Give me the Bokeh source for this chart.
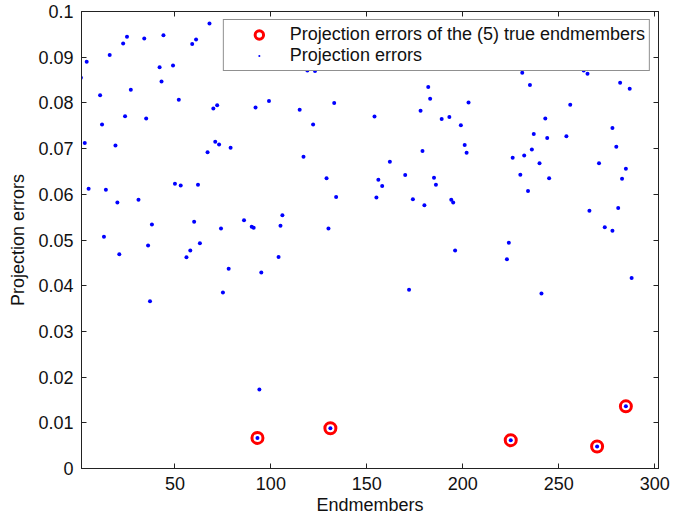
from bokeh.plotting import figure
from bokeh.models import (LinearAxis, FixedTicker, CustomJSTickFormatter, Range1d,
                          Legend, LegendItem)
from bokeh.embed import file_html
from bokeh.resources import INLINE

# ---- data ----
err_x = [1, 3, 4, 5, 11, 12, 13, 14, 16, 19, 20, 21, 23, 24, 25, 27, 31, 34, 35, 36,
         37, 38, 42, 43, 44, 49, 50, 52, 53, 56, 58, 59, 60, 61, 62, 63, 67, 68, 70, 71,
         72, 73, 74, 75, 78, 79, 86, 90, 91, 92, 93, 94, 95, 99, 104, 105, 106, 115, 117, 119,
         122, 123, 129, 130, 131, 133, 134, 154, 155, 156, 158, 162, 170, 172, 174, 178, 179, 180, 182, 183,
         185, 186, 189, 193, 194, 195, 196, 199, 201, 202, 203, 223, 224, 225, 226, 230, 231, 232, 234, 235,
         236, 237, 240, 241, 243, 244, 245, 254, 256, 263, 265, 266, 270, 271, 274, 278, 278, 280, 281, 282,
         283, 285, 285, 287, 288]
err_y = [0.0855, 0.0712, 0.0890, 0.0612, 0.0817, 0.0753, 0.0507, 0.0610, 0.0905, 0.0707,
         0.0582, 0.0469, 0.0930, 0.0771, 0.0945, 0.0829, 0.0588, 0.0941, 0.0766, 0.0488,
         0.0366, 0.0534, 0.0878, 0.0847, 0.0948, 0.0882, 0.0623, 0.0807, 0.0619, 0.0462,
         0.0477, 0.0929, 0.0540, 0.0939, 0.0621, 0.0493, 0.0692, 0.0974, 0.0788, 0.0715,
         0.0795, 0.0709, 0.0525, 0.0385, 0.0437, 0.0702, 0.0543, 0.0529, 0.0527, 0.0790,
         0.0067, 0.0173, 0.0429, 0.0804, 0.0463, 0.0531, 0.0554, 0.0785, 0.0682, 0.0871,
         0.0753, 0.0870, 0.0635, 0.0525, 0.0088, 0.0800, 0.0594, 0.0770, 0.0593, 0.0632,
         0.0618, 0.0671, 0.0642, 0.0391, 0.0589, 0.0783, 0.0695, 0.0576, 0.0835, 0.0809,
         0.0636, 0.0621, 0.0765, 0.0769, 0.0588, 0.0582, 0.0477, 0.0751, 0.0708, 0.0691,
         0.0801, 0.0458, 0.0494, 0.0062, 0.0680, 0.0643, 0.0866, 0.0685, 0.0607, 0.0839,
         0.0698, 0.0732, 0.0668, 0.0383, 0.0766, 0.0723, 0.0635, 0.0727, 0.0796, 0.0871,
         0.0864, 0.0564, 0.0048, 0.0668, 0.0528, 0.0745, 0.0520, 0.0704, 0.0570, 0.0844,
         0.0634, 0.0136, 0.0656, 0.0831, 0.0417]

true_x = [93, 131, 225, 270, 285]
true_y = [0.0067, 0.0088, 0.0062, 0.0048, 0.0136]

x_ticks = [50, 100, 150, 200, 250, 300]
y_ticks = [0, 0.01, 0.02, 0.03, 0.04, 0.05, 0.06, 0.07, 0.08, 0.09, 0.1]

FONT = "Liberation Sans"
FS = "18px"

p = figure(width=684, height=518, output_backend="svg", toolbar_location=None,
           x_range=Range1d(1.3, 302), y_range=Range1d(0, 0.1),
           min_border_left=81, min_border_right=26, min_border_top=11,
           min_border_bottom=50)
p.grid.visible = False
p.outline_line_color = "#222222"
p.outline_line_width = 1
p.background_fill_color = "white"
p.border_fill_color = "white"

fmt = CustomJSTickFormatter(code="return Number(tick.toFixed(3)).toString();")
blank = CustomJSTickFormatter(code="return '';")


def style(ax):
    ax.major_tick_in = 5
    ax.major_tick_out = 0
    ax.minor_tick_in = 0
    ax.minor_tick_out = 0
    ax.axis_line_color = "#222222"
    ax.major_tick_line_color = "#222222"
    ax.major_label_text_font = FONT
    ax.major_label_text_font_size = FS
    ax.major_label_text_color = "#111111"
    ax.axis_label_text_font = FONT
    ax.axis_label_text_font_size = FS
    ax.axis_label_text_font_style = "normal"
    ax.axis_label_text_color = "#111111"


xa = p.xaxis[0]
xa.ticker = FixedTicker(ticks=x_ticks)
xa.formatter = fmt
xa.axis_label = "Endmembers"
style(xa)
xa.major_label_standoff = 8
xa.axis_label_standoff = 2

ya = p.yaxis[0]
ya.ticker = FixedTicker(ticks=y_ticks)
ya.formatter = fmt
ya.axis_label = "Projection errors"
style(ya)
ya.major_label_standoff = 8
ya.axis_label_standoff = 7

ra = LinearAxis(ticker=FixedTicker(ticks=y_ticks), formatter=blank)
style(ra)
ra.major_label_standoff = 0
p.add_layout(ra, "right")

ta = LinearAxis(ticker=FixedTicker(ticks=x_ticks), formatter=blank)
style(ta)
ta.major_label_standoff = 0
p.add_layout(ta, "above")

red = p.scatter(true_x, true_y, marker="circle", size=11, fill_alpha=0,
                line_color="#ff0000", line_width=3)
blue = p.scatter(err_x, err_y, marker="dot", size=16, line_color="#0000ff",
                 fill_color="#0000ff")

legend = Legend(items=[
    LegendItem(label="Projection errors of the (5) true endmembers", renderers=[red]),
    LegendItem(label="Projection errors", renderers=[blue]),
], location="top_right")
legend.label_text_font = FONT
legend.label_text_font_size = FS
legend.label_text_color = "#111111"
legend.border_line_color = "#222222"
legend.border_line_width = 1
legend.background_fill_alpha = 1
legend.padding = 4
legend.spacing = 0
legend.margin = 8
legend.glyph_width = 62
legend.glyph_height = 21
legend.label_standoff = 0
legend.label_height = 20
p.add_layout(legend)

open("out.html", "w").write(file_html(p, INLINE))
